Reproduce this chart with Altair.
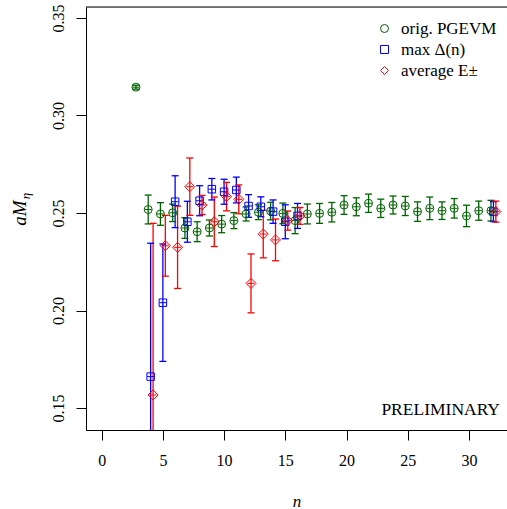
import altair as alt
import pandas as pd

FONT = "Liberation Serif"

series_names = ["orig. PGEVM", "max Δ(n)", "average E±"]
series_colors = ["#006400", "#0000ff", "#ff0000"]
series_shapes = ["circle", "square", "diamond"]
series_shift = [-0.2, 0.0, 0.2]
marker_size = {"orig. PGEVM": 64, "max Δ(n)": 56, "average E±": 100}

green_n = list(range(3, 33))
green_val = [0.3145, 0.2518, 0.2495, 0.2501, 0.2423, 0.2404, 0.2423, 0.2443, 0.2461, 0.2495,
             0.2504, 0.2510, 0.2498, 0.2461, 0.2495, 0.2498, 0.2504, 0.2541, 0.2532, 0.2550,
             0.2524, 0.2541, 0.2536, 0.2507, 0.2524, 0.2512, 0.2524, 0.2485, 0.2512, 0.2512]
green_err = [0.0010, 0.0074, 0.0058, 0.0045, 0.0053, 0.0051, 0.0041, 0.0044, 0.0041, 0.0036,
             0.0038, 0.0045, 0.0053, 0.0067, 0.0051, 0.0051, 0.0050, 0.0048, 0.0046, 0.0047,
             0.0047, 0.0046, 0.0049, 0.0050, 0.0058, 0.0045, 0.0050, 0.0055, 0.0049, 0.0053]

blue_n = [4, 5, 6, 7, 8, 9, 10, 11, 12, 13, 14, 15, 16, 32]
blue_val = [0.1661, 0.2040, 0.2558, 0.2455, 0.2563, 0.2622, 0.2609, 0.2618, 0.2536, 0.2532,
            0.2507, 0.2455, 0.2485, 0.2507]
blue_err = [0.0684, 0.0301, 0.0133, 0.0105, 0.0077, 0.0055, 0.0064, 0.0066, 0.0058, 0.0051,
            0.0060, 0.0087, 0.0064, 0.0051]

red_n = [4, 5, 6, 7, 8, 9, 10, 11, 12, 13, 14, 15, 16, 32]
red_val = [0.1567, 0.2332, 0.2324, 0.2635, 0.2541, 0.2455, 0.2584, 0.2570, 0.2139, 0.2392,
           0.2362, 0.2461, 0.2485, 0.2507]
red_err = [0.0880, 0.0156, 0.0211, 0.0147, 0.0049, 0.0127, 0.0073, 0.0074, 0.0151, 0.0122,
           0.0107, 0.0049, 0.0043, 0.0054]

x_ticks = [0, 5, 10, 15, 20, 25, 30]
y_ticks = [0.15, 0.20, 0.25, 0.30, 0.35]
x_domain = [-1.28, 33.11]
y_domain = [0.13872, 0.35564]

color_of = dict(zip(series_names, series_colors))
rows = []
for name, shift, ns, vals, errs in zip(series_names, series_shift,
                                       [green_n, blue_n, red_n],
                                       [green_val, blue_val, red_val],
                                       [green_err, blue_err, red_err]):
    for n, v, e in zip(ns, vals, errs):
        rows.append({"series": name, "x": n + shift, "val": v,
                     "lo": v - e, "hi": v + e, "sz": marker_size[name],
                     "col": color_of[name]})
df = pd.DataFrame(rows)

W, H = 421, 423

x_scale = alt.Scale(domain=x_domain, nice=False, zero=False)
y_scale = alt.Scale(domain=y_domain, nice=False, zero=False)
color_scale = alt.Scale(domain=series_names, range=series_colors)
shape_scale = alt.Scale(domain=series_names, range=series_shapes)

x_axis = alt.Axis(values=x_ticks, title="n", titleFontStyle="italic", titleFont=FONT,
                  titleFontSize=17, titleFontWeight="normal", titlePadding=25,
                  tickSize=10, labelPadding=12, labelFont=FONT, labelFontSize=16,
                  grid=False, labelFlush=False, domainColor="black", tickColor="black",
                  labelColor="black", titleColor="black")
y_axis = alt.Axis(values=y_ticks, format=".2f", title=None, labelAngle=270,
                  labelAlign="center", labelBaseline="middle", tickSize=10,
                  labelPadding=18, labelFont=FONT, labelFontSize=16, grid=False,
                  domainColor="black", tickColor="black", labelColor="black")

leg = alt.Legend(title=None, orient="none", legendX=290, legendY=13, labelFont=FONT,
                 labelFontSize=17, symbolSize=64, symbolStrokeWidth=1, rowPadding=3,
                 labelOffset=8, padding=0, labelColor="black")

base = alt.Chart(df)
col_direct = alt.Color("col:N", scale=None)

rules = base.mark_rule(strokeWidth=1.3, clip=True).encode(
    x=alt.X("x:Q", scale=x_scale, axis=x_axis),
    y=alt.Y("lo:Q", scale=y_scale, axis=y_axis),
    y2="hi:Q",
    color=col_direct,
)
caps_lo = base.mark_tick(orient="horizontal", size=7, thickness=1.3, opacity=1, clip=True).encode(
    x="x:Q", y="lo:Q", color=col_direct)
caps_hi = base.mark_tick(orient="horizontal", size=7, thickness=1.3, opacity=1, clip=True).encode(
    x="x:Q", y="hi:Q", color=col_direct)
centers = base.mark_tick(orient="horizontal", size=7, thickness=1, opacity=1, clip=True).encode(
    x="x:Q", y="val:Q", color=col_direct)
points = base.mark_point(filled=False, strokeWidth=1, opacity=1, clip=True).encode(
    x="x:Q",
    y="val:Q",
    color=alt.Color("series:N", scale=color_scale, legend=leg),
    shape=alt.Shape("series:N", scale=shape_scale, legend=leg),
    size=alt.Size("sz:Q", scale=None, legend=None),
)

top_border = alt.Chart(pd.DataFrame({"a": [0]})).mark_rule(color="black", strokeWidth=1).encode(
    x=alt.value(0), x2=alt.value(W), y=alt.value(0))

ytitle_main = alt.Chart(pd.DataFrame({"t": ["aM"]})).mark_text(
    angle=270, font=FONT, fontStyle="italic", fontSize=19, align="center",
    baseline="middle", color="black").encode(text="t:N", x=alt.value(-66), y=alt.value(206))
ytitle_sub = alt.Chart(pd.DataFrame({"t": ["η"]})).mark_text(
    angle=270, font=FONT, fontStyle="italic", fontSize=13, align="center",
    baseline="middle", color="black").encode(text="t:N", x=alt.value(-60), y=alt.value(189))

prelim = alt.Chart(pd.DataFrame({"t": ["PRELIMINARY"]})).mark_text(
    font=FONT, fontSize=17.5, align="right", baseline="middle", color="black").encode(
    text="t:N", x=alt.value(414), y=alt.value(403))

chart = alt.layer(rules, caps_lo, caps_hi, centers, points, top_border,
                  ytitle_main, ytitle_sub, prelim).properties(
    width=W, height=H,
    padding={"left": 86, "top": 7, "right": 0, "bottom": 79},
    autosize=alt.AutoSizeParams(type="none"),
).configure_view(stroke=None).configure(background="white")

chart.save("out.html", embed_options={"renderer": "svg", "actions": False})
